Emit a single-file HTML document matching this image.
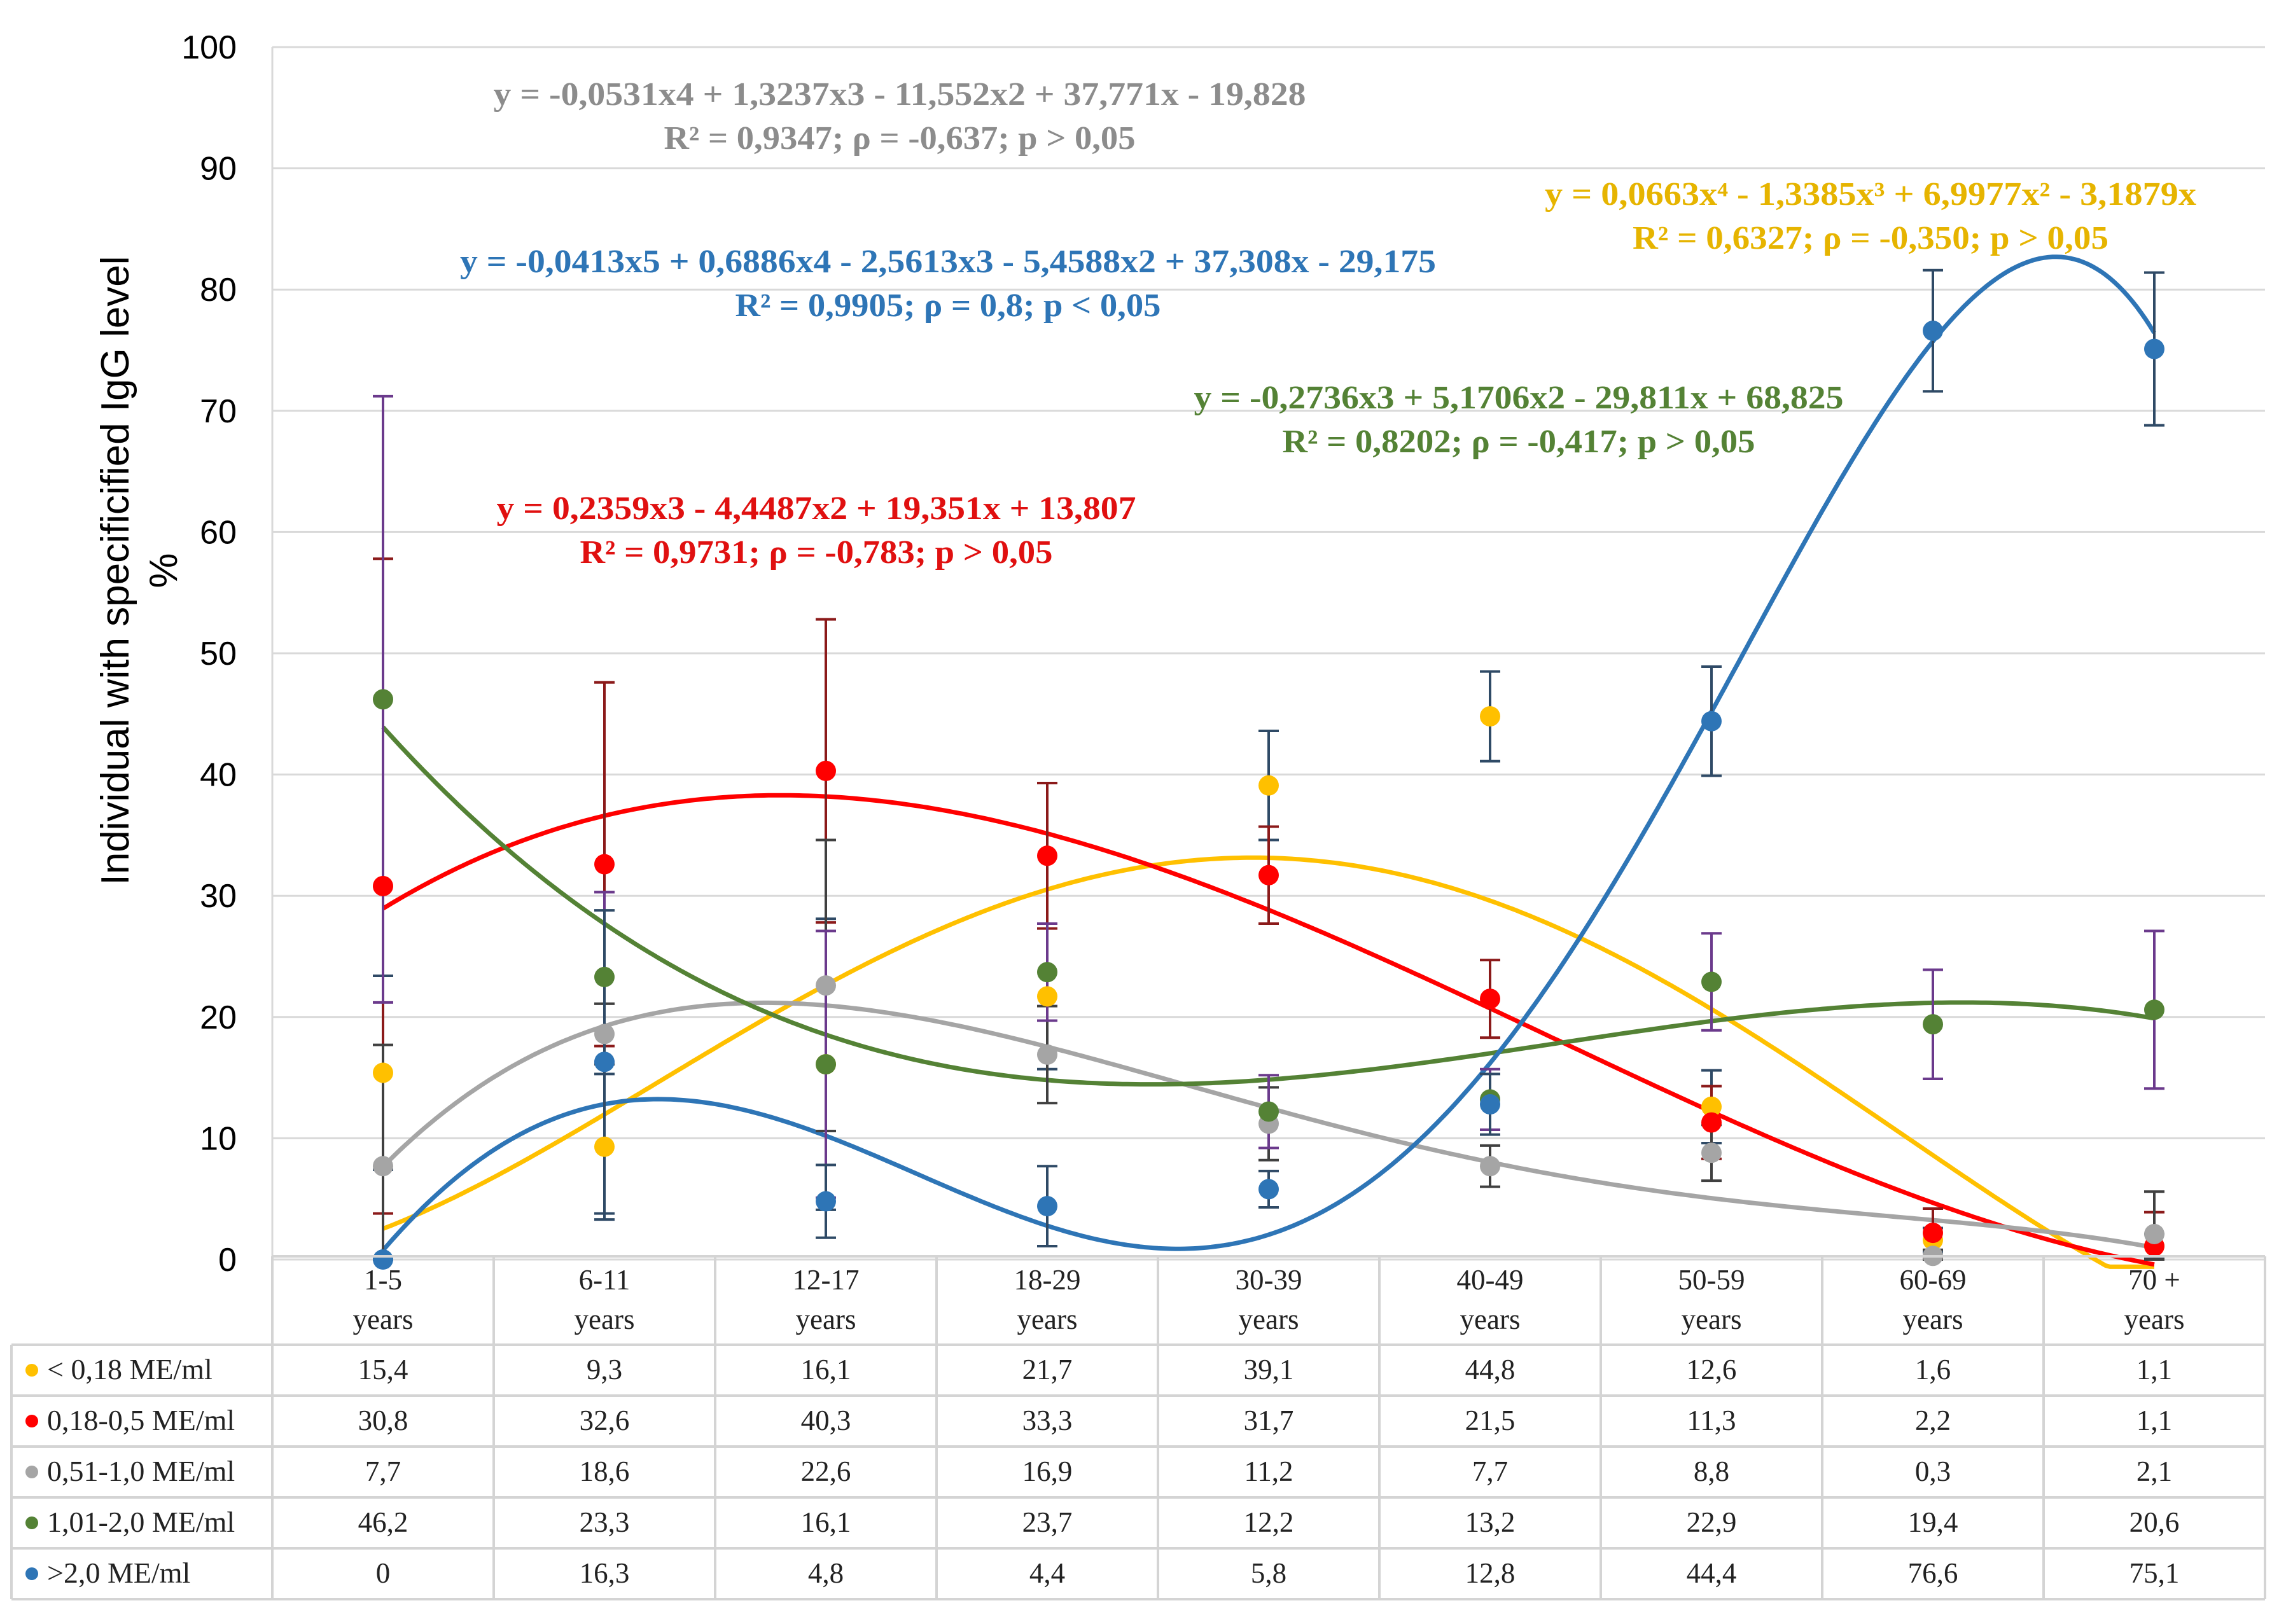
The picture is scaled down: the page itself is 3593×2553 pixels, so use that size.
<!DOCTYPE html>
<html><head><meta charset="utf-8">
<style>
html,body{margin:0;padding:0;background:#fff;}
svg{display:block;}
</style></head>
<body>
<svg id="chart" width="3593" height="2553" viewBox="0 0 3593 2553" xmlns="http://www.w3.org/2000/svg">
<g id="grid"></g>
<g id="yticks"></g>
<text transform="translate(202,897) rotate(-90)" text-anchor="middle" font-family="Liberation Sans, sans-serif" font-size="62" fill="#000">Individual with specificified  IgG level</text>
<text transform="translate(278,897) rotate(-90)" text-anchor="middle" font-family="Liberation Sans, sans-serif" font-size="62" fill="#000">%</text>
<g id="curves"></g>
<g id="errs"></g>
<g id="points"></g>
<g id="eqs" font-family="Liberation Serif, serif" font-weight="bold" font-size="52" text-anchor="middle">
<text x="1414" y="165" textLength="1277" lengthAdjust="spacingAndGlyphs" fill="#8c8c8c">y = -0,0531x4 + 1,3237x3 - 11,552x2 + 37,771x - 19,828</text>
<text x="1414" y="234" textLength="741" lengthAdjust="spacingAndGlyphs" fill="#8c8c8c">R² = 0,9347; ρ = -0,637; p &gt; 0,05</text>
<text x="1490" y="428" textLength="1534" lengthAdjust="spacingAndGlyphs" fill="#2e75b6">y = -0,0413x5 + 0,6886x4 - 2,5613x3 - 5,4588x2 + 37,308x - 29,175</text>
<text x="1490" y="497" textLength="669" lengthAdjust="spacingAndGlyphs" fill="#2e75b6">R² = 0,9905; ρ = 0,8; p &lt; 0,05</text>
<text x="2940" y="322" textLength="1024" lengthAdjust="spacingAndGlyphs" fill="#e6b400">y = 0,0663x⁴ - 1,3385x³ + 6,9977x² - 3,1879x</text>
<text x="2940" y="391" textLength="748" lengthAdjust="spacingAndGlyphs" fill="#e6b400">R² = 0,6327; ρ = -0,350; p &gt; 0,05</text>
<text x="2387" y="642" textLength="1021" lengthAdjust="spacingAndGlyphs" fill="#548235">y = -0,2736x3 + 5,1706x2 - 29,811x + 68,825</text>
<text x="2387" y="711" textLength="743" lengthAdjust="spacingAndGlyphs" fill="#548235">R² = 0,8202; ρ = -0,417; p &gt; 0,05</text>
<text x="1283" y="816" textLength="1005" lengthAdjust="spacingAndGlyphs" fill="#e01010">y = 0,2359x3 - 4,4487x2 + 19,351x + 13,807</text>
<text x="1283" y="885" textLength="743" lengthAdjust="spacingAndGlyphs" fill="#e01010">R² = 0,9731; ρ = -0,783; p &gt; 0,05</text>
</g>
<g id="table"></g>
</svg>
<script>
const categories = ["1-5","6-11","12-17","18-29","30-39","40-49","50-59","60-69","70 +"];
const seriesNames = ["< 0,18 ME/ml","0,18-0,5 ME/ml","0,51-1,0 ME/ml","1,01-2,0 ME/ml",">2,0 ME/ml"];
const yellowVals = [15.4,9.3,16.1,21.7,39.1,44.8,12.6,1.6,1.1];
const redVals = [30.8,32.6,40.3,33.3,31.7,21.5,11.3,2.2,1.1];
const grayVals = [7.7,18.6,22.6,16.9,11.2,7.7,8.8,0.3,2.1];
const greenVals = [46.2,23.3,16.1,23.7,12.2,13.2,22.9,19.4,20.6];
const blueVals = [0,16.3,4.8,4.4,5.8,12.8,44.4,76.6,75.1];
const yellowErr = [8,6,12,6,4.5,3.7,3,1,1];
const redErr = [27,15,12.5,6,4,3.2,3,2,2.8];
const grayErr = [10,2.5,12,4,3,1.7,2.3,0.5,3.5];
const greenErr = [25,7,11,4,3,2.5,4,4.5,6.5];
const blueErr = [0,12.5,3,3.3,1.5,2.5,4.5,5,6.3];
const yellowCoef = [0,-3.1879,6.9977,-1.3385,0.0663];
const redCoef = [13.807,19.351,-4.4487,0.2359];
const grayCoef = [-19.828,37.771,-11.552,1.3237,-0.0531];
const greenCoef = [68.825,-29.811,5.1706,-0.2736];
const blueCoef = [-29.175,37.308,-5.4588,-2.5613,0.6886,-0.0413];
const yTicks = [0,10,20,30,40,50,60,70,80,90,100];

const NS="http://www.w3.org/2000/svg";
const L=428, colW=348, Y0=1980, Y100=74;
const xPos=i=>L+colW*(i+0.5);
const xCont=x=>L+colW*(x-0.5);
const yPos=v=>Y0-(Y0-Y100)*v/100;
function mk(parent,tag,attrs){const e=document.createElementNS(NS,tag);for(const k in attrs)e.setAttribute(k,attrs[k]);parent.appendChild(e);return e;}
const grid=document.getElementById('grid'), yt=document.getElementById('yticks');
yTicks.forEach(t=>{
  const ln=mk(grid,'line',{x1:L,x2:3560,y1:yPos(t),y2:yPos(t),stroke:'#d9d9d9','stroke-width':3});
  
  
  const tx=mk(yt,'text',{x:372,y:yPos(t)+18,'text-anchor':'end','font-family':'Liberation Sans, sans-serif','font-size':52,fill:'#000'});
  tx.textContent=t;
  
  
});
const gl=mk(grid,'line',{x1:L,x2:L,y1:Y100,y2:Y0,stroke:'#d9d9d9','stroke-width':3});



const series=[
 {n:'yellow',v:yellowVals,e:yellowErr,c:yellowCoef,col:'#ffc000',ec:'#2f4a66'},
 {n:'red',v:redVals,e:redErr,c:redCoef,col:'#ff0000',ec:'#8b1a1a'},
 {n:'gray',v:grayVals,e:grayErr,c:grayCoef,col:'#a5a5a5',ec:'#404040'},
 {n:'green',v:greenVals,e:greenErr,c:greenCoef,col:'#548235',ec:'#6b3a8c'},
 {n:'blue',v:blueVals,e:blueErr,c:blueCoef,col:'#2e75b6',ec:'#2f4a66'}];
const curves=document.getElementById('curves'),errs=document.getElementById('errs'),pts=document.getElementById('points');
function poly(c,x){let s=0;for(let i=c.length-1;i>=0;i--)s=s*x+c[i];return s;}
series.forEach(s=>{
  let d='';
  for(let k=0;k<=400;k++){const x=1+8*k/400;let v=poly(s.c,x);if(v<-0.6)v=-0.6;d+=(k?'L':'M')+xCont(x).toFixed(1)+','+yPos(v).toFixed(1);}
  const p=mk(curves,'path',{d:d,fill:'none',stroke:s.col,'stroke-width':7});
  
  
});
series.forEach(s=>{
  s.v.forEach((v,i)=>{
    const e=s.e[i]; if(!e) return;
    const x=xPos(i), t=yPos(v+e), b=yPos(Math.max(0,v-e));
    const g=mk(errs,'path',{d:`M${x},${t}L${x},${b}M${x-16},${t}L${x+16},${t}M${x-16},${b}L${x+16},${b}`,stroke:s.ec,'stroke-width':4,fill:'none'});
    
    
  });
});
series.forEach(s=>{
  s.v.forEach((v,i)=>{
    const c=mk(pts,'circle',{cx:xPos(i),cy:yPos(v),r:16,fill:s.col});
    
    
  });
});
const tb=document.getElementById('table');
const TT=1975, HH=139, RH=80, R=3560;
function line(x1,y1,x2,y2,name){const l=mk(tb,'line',{x1,y1,x2,y2,stroke:'#d4d4d4','stroke-width':4});}
line(L,TT,R,TT,'table-top-border');
for(let r=0;r<=5;r++) line(18,TT+HH+r*RH,R,TT+HH+r*RH,'table-row-border');
for(let c=0;c<=9;c++) line(L+c*colW,TT,L+c*colW,TT+HH+5*RH,'table-column-border');
line(18,TT+HH,18,TT+HH+5*RH,'table-left-border');
const F='Liberation Serif, serif';
categories.forEach((c,i)=>{
  const a=mk(tb,'text',{x:xPos(i),y:TT+52,'text-anchor':'middle','font-family':F,'font-size':45,fill:'#222'});a.textContent=c;
  
  
  const b=mk(tb,'text',{x:xPos(i),y:TT+114,'text-anchor':'middle','font-family':F,'font-size':45,fill:'#222'});b.textContent='years';
  
  
});
series.forEach((s,r)=>{
  const cy=TT+HH+r*RH+RH/2;
  const m=mk(tb,'circle',{cx:50,cy:cy,r:10,fill:s.col});
  
  
  const t=mk(tb,'text',{x:74,y:cy+14,'font-family':F,'font-size':46,fill:'#222'});t.textContent=seriesNames[r];
  
  
  s.v.forEach((v,i)=>{
    const tx=mk(tb,'text',{x:xPos(i),y:cy+14,'text-anchor':'middle','font-family':F,'font-size':45,fill:'#222'});
    tx.textContent=String(v).replace('.',',');
    
    
  });
});
</script>
</body></html>
